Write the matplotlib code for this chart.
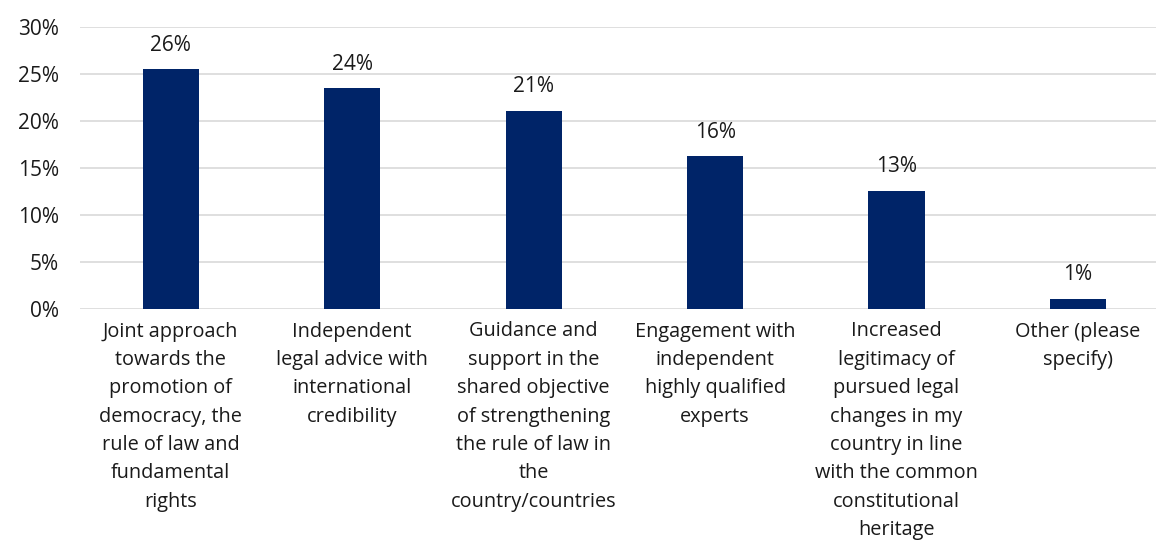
import matplotlib.pyplot as plt
import numpy as np

plt.rcParams['font.family'] = ['Open Sans', 'DejaVu Sans']

# survey answers, share of respondents (%)
categories = [
    "Joint approach\ntowards the\npromotion of\ndemocracy, the\nrule of law and\nfundamental\nrights",
    "Independent\nlegal advice with\ninternational\ncredibility",
    "Guidance and\nsupport in the\nshared objective\nof strengthening\nthe rule of law in\nthe\ncountry/countries",
    "Engagement with\nindependent\nhighly qualified\nexperts",
    "Increased\nlegitimacy of\npursued legal\nchanges in my\ncountry in line\nwith the common\nconstitutional\nheritage",
    "Other (please\nspecify)",
]
shares = [25.5, 23.5, 21.1, 16.3, 12.6, 1.1]
yticks = [0, 5, 10, 15, 20, 25, 30]

fig = plt.figure(figsize=(11.56, 5.43), dpi=100)
ax = fig.add_axes([80 / 1156, 1 - 309 / 543, 1 - 80 / 1156, (309 - 27) / 543])

x = np.arange(len(categories))
bars = ax.bar(x, shares, width=0.31, color='#002468', zorder=3)

for xi, v in zip(x, shares):
    ax.text(xi, v + 1.4, f"{v:.0f}%", ha='center', va='bottom', fontsize=15, color='#1a1a1a')

ax.set_ylim(0, 30)
ax.set_xlim(-0.5, 5.43)
ax.set_yticks(yticks)
ax.set_yticklabels([f"{t}%" for t in yticks], fontsize=15, color='#1a1a1a')
ax.yaxis.grid(True, color='#d9d9d9', linewidth=1.2, zorder=0)
ax.tick_params(axis='y', length=0, pad=15)
ax.tick_params(axis='x', length=0, pad=9)
ax.set_xticks(x)
ax.set_xticklabels(categories, fontsize=14.3, color='#1a1a1a', linespacing=1.56, va='top')
for s in ax.spines.values():
    s.set_visible(False)

fig.savefig('out.png', dpi=100)
